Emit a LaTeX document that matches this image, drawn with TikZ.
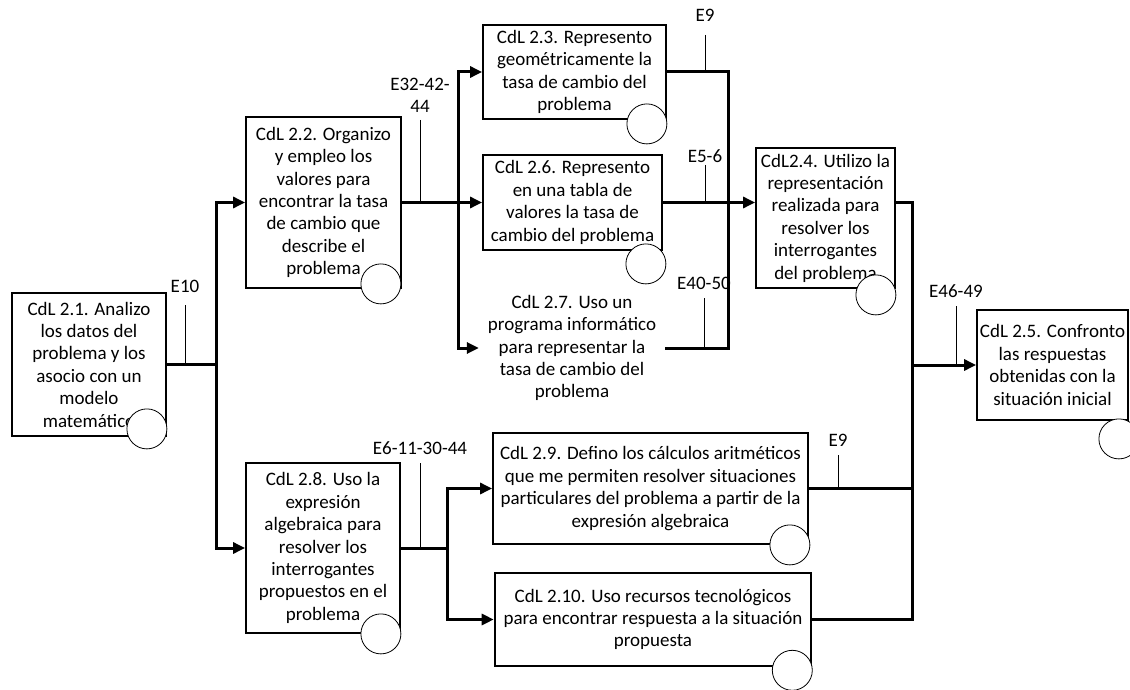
\documentclass[tikz,border=0pt]{standalone}
\usepackage{fontspec}
\setmainfont{Carlito}
\usetikzlibrary{arrows.meta,positioning}

\begin{document}
\begin{tikzpicture}
	[x=1pt,y=-1pt,font=\fontsize{19}{22.4}\selectfont,
	cdl node/.style={shape=rectangle,draw,line width=1.8pt,align=center,inner sep=0pt},
	mark node/.style={shape=circle,draw,fill=white,line width=0.8pt,minimum size=40pt,inner sep=0pt},
	e node/.style={inner sep=0pt,align=center},
	flow/.style={line width=3pt},
	arr/.style={flow,-{Triangle[length=12pt,width=11pt]}},
	tick/.style={line width=0.8pt}]
	\useasboundingbox (0,0) rectangle (1130,690);

	\node [cdl node,minimum width=154pt,minimum height=143pt] (c21) at (89,364.5) {CdL 2.1. Analizo\\los datos del\\problema y los\\asocio con un\\modelo\\matemático};
	\node [cdl node,minimum width=155pt,minimum height=171pt] (c22) at (323.5,202.5) {CdL 2.2. Organizo\\y empleo los\\valores para\\encontrar la tasa\\de cambio que\\describe el\\problema};
	\node [cdl node,minimum width=183pt,minimum height=94pt] (c23) at (574.5,72) {CdL 2.3. Represento\\geométricamente la\\tasa de cambio del\\problema};
	\node [cdl node,minimum width=179pt,minimum height=95pt] (c26) at (572.5,202.5) {CdL 2.6. Represento\\en una tabla de\\valores la tasa de\\cambio del problema};
	\node [align=center,inner sep=0pt,minimum width=186pt] (c27) at (572,348) {CdL 2.7. Uso un\\programa informático\\para representar la\\tasa de cambio del\\problema};
	\node [cdl node,minimum width=139pt,minimum height=140pt] (c24) at (825.5,218) {CdL2.4. Utilizo la\\representación\\realizada para\\resolver los\\interrogantes\\del problema};
	\node [cdl node,minimum width=151pt,minimum height=110pt] (c25) at (1052.5,365) {CdL 2.5. Confronto\\las respuestas\\obtenidas con la\\situación inicial};
	\node [cdl node,minimum width=154pt,minimum height=170pt] (c28) at (323,548) {CdL 2.8. Uso la\\expresión\\algebraica para\\resolver los\\interrogantes\\propuestos en el\\problema};
	\node [cdl node,minimum width=315pt,minimum height=111pt] (c29) at (650.5,488.5) {CdL 2.9. Defino los cálculos aritméticos\\que me permiten resolver situaciones\\particulares del problema a partir de la\\expresión algebraica};
	\node [cdl node,line width=2.6pt,minimum width=316pt,minimum height=93pt] (c210) at (653,619.5) {CdL 2.10. Uso recursos tecnológicos\\para encontrar respuesta a la situación\\propuesta};

	% circles
	\node [mark node] (m21) at ([xshift=-20pt,yshift=8pt]c21.south east) {};
	\node [mark node] (m22) at ([xshift=-21pt,yshift=5pt]c22.south east) {};
	\node [mark node] (m23) at ([xshift=-20pt,yshift=-4pt]c23.south east) {};
	\node [mark node] (m26) at ([xshift=-17pt,yshift=-13pt]c26.south east) {};
	\node [mark node] (m24) at ([xshift=-20pt,yshift=-6pt]c24.south east) {};
	\node [mark node] (m25) at ([xshift=-10pt,yshift=-18pt]c25.south east) {};
	\node [mark node] (m28) at ([xshift=-20pt]c28.south east) {};
	\node [mark node] (m29) at ([xshift=-19pt]c29.south east) {};
	\node [mark node] (m210) at ([xshift=-20pt,yshift=-3pt]c210.south east) {};

	\coordinate (j1) at (216,364.5);
	\coordinate (j2) at (458,202.5);
	\coordinate (j3) at (728,202.5);
	\coordinate (j4) at (912,365);
	\coordinate (j5) at (447,548);

	\draw [flow] (c21.east) -- (j1);
	\draw [arr] (j1) |- (c22.west);
	\draw [arr] (j1) |- (c28.west);

	\draw [flow] (c22.east) -- (j2);
	\draw [arr] (j2) |- (c23.west);
	\draw [arr] (j2) -- (c26.west);
	\draw [arr] (j2) |- (c27.west);

	\draw [flow] (c23.east) -| (j3);
	\draw [flow] (c27.east) -| (j3);
	\draw [arr] (c26.east) -- (c26.east -| c24.west);

	\draw [flow] (c26.east -| c24.east) -| (j4);
	\draw [flow] (c29.east) -| (j4);
	\draw [flow] (c210.east) -| (j4);
	\draw [arr] (j4) -- (c25.west);

	\draw [flow] (c28.east) -- (j5);
	\draw [arr] (j5) |- (c29.west);
	\draw [arr] (j5) |- (c210.west);

	% labels
	\coordinate (t10) at (185,305);
	\coordinate (t32) at (420,120);
	\coordinate (t9a) at (705,35);
	\coordinate (t56) at (705,165);
	\coordinate (t40) at (704,298);
	\coordinate (t46) at (956,306);
	\coordinate (t9b) at (838,455);
	\coordinate (t6) at (420,463);

	\node [e node,above=12pt of t10] (e10) {E10};
	\node [e node,above=7pt of t32] (e32) {E32-42-\\44};
	\node [e node,above=13pt of t9a] (e9a) {E9};
	\node [e node,above=2pt of t56] (e56) {E5-6};
	\node [e node,above=8pt of t40] (e40) {E40-50};
	\node [e node,above=8pt of t46] (e46) {E46-49};
	\node [e node,above=8pt of t9b] (e9b) {E9};
	\node [e node,above=8pt of t6] (e6) {E6-11-30-44};

	\draw [tick] (t10) -- (t10 |- j1);
	\draw [tick] (t32) -- (t32 |- j2);
	\draw [tick] (t9a) -- (t9a |- c23.east);
	\draw [tick] (t56) -- (t56 |- c26.east);
	\draw [tick] (t40) -- (t40 |- c27.east);
	\draw [tick] (t46) -- (t46 |- j4);
	\draw [tick] (t9b) -- (t9b |- c29.east);
	\draw [tick] (t6) -- (t6 |- j5);
\end{tikzpicture}
\end{document}
